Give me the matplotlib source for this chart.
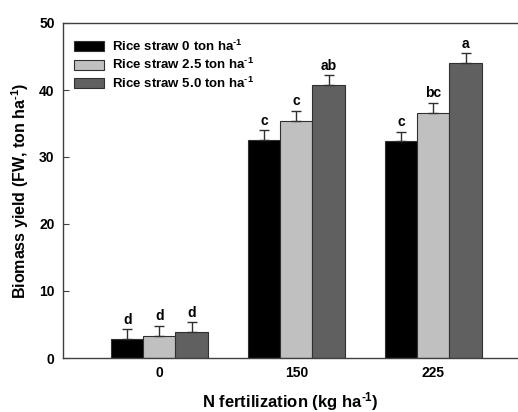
import numpy as np
import matplotlib
matplotlib.use('Agg')
import matplotlib.pyplot as plt

plt.rcParams['font.family'] = ['Liberation Sans', 'DejaVu Sans']
plt.rcParams['font.weight'] = 'bold'
plt.rcParams['mathtext.fontset'] = 'custom'
plt.rcParams['mathtext.rm'] = 'Liberation Sans:bold'
plt.rcParams['mathtext.bf'] = 'Liberation Sans:bold'
plt.rcParams['mathtext.sf'] = 'Liberation Sans:bold'
plt.rcParams['mathtext.default'] = 'bf'

SUP = '$^{\\text{-1}}$'

# data
n_rates = ['0', '150', '225']
series = ['Rice straw 0 ton ha' + SUP, 'Rice straw 2.5 ton ha' + SUP, 'Rice straw 5.0 ton ha' + SUP]
straw0 = [2.9, 32.5, 32.4]
straw25 = [3.3, 35.4, 36.6]
straw50 = [3.9, 40.7, 44.1]
err0 = [1.4, 1.5, 1.4]
err25 = [1.5, 1.5, 1.5]
err50 = [1.4, 1.5, 1.4]
let0 = ['d', 'c', 'c']
let25 = ['d', 'c', 'bc']
let50 = ['d', 'ab', 'a']

colors = ['#000000', '#c0c0c0', '#606060']

fig = plt.figure(figsize=(5.18, 4.12), dpi=100)
ax = fig.add_axes([63 / 518, 1 - 358 / 412, 1 - 63 / 518, (358 - 23) / 412])

x = np.arange(len(n_rates))
w = 0.234
vals = [straw0, straw25, straw50]
errs = [err0, err25, err50]
lets = [let0, let25, let50]

for i in range(3):
    pos = x + (i - 1) * w
    ax.bar(pos, vals[i], w, color=colors[i], edgecolor='#303030', linewidth=0.8,
           label=series[i], zorder=2)
    ax.errorbar(pos, vals[i], yerr=[np.zeros(3), errs[i]], fmt='none', ecolor='#303030',
                elinewidth=1, capsize=3.6, capthick=1, zorder=3)
    for p, v, e, t in zip(pos, vals[i], errs[i], lets[i]):
        ax.text(p, v + e + 0.35, t, ha='center', va='bottom', fontsize=10, fontweight='bold')

ax.set_xlim(-0.704, 2.617)
ax.set_ylim(0, 50)
ax.set_yticks([0, 10, 20, 30, 40, 50])
ax.set_xticks(x)
ax.set_xticklabels(n_rates)
ax.tick_params(axis='y', direction='in', length=4, width=0.8, labelsize=10, pad=6, color='#404040')
ax.tick_params(axis='x', length=0, labelsize=10, pad=6)
for s in ['left', 'bottom', 'top']:
    ax.spines[s].set_color('#404040')
    ax.spines[s].set_linewidth(1)
ax.spines['right'].set_visible(False)

ax.set_xlabel('N fertilization (kg ha' + SUP + ')', fontsize=12, fontweight='bold', labelpad=7)
ax.set_ylabel('Biomass yield (FW, ton ha' + SUP + ')', fontsize=11.5, fontweight='bold', labelpad=6)

ax.legend(loc='upper left', frameon=False, fontsize=9.5, handlelength=2.3, handleheight=0.75,
          handletextpad=0.6, labelspacing=0.25, borderaxespad=0.4, bbox_to_anchor=(0.0, 0.985))

fig.savefig('out.png', dpi=100)
